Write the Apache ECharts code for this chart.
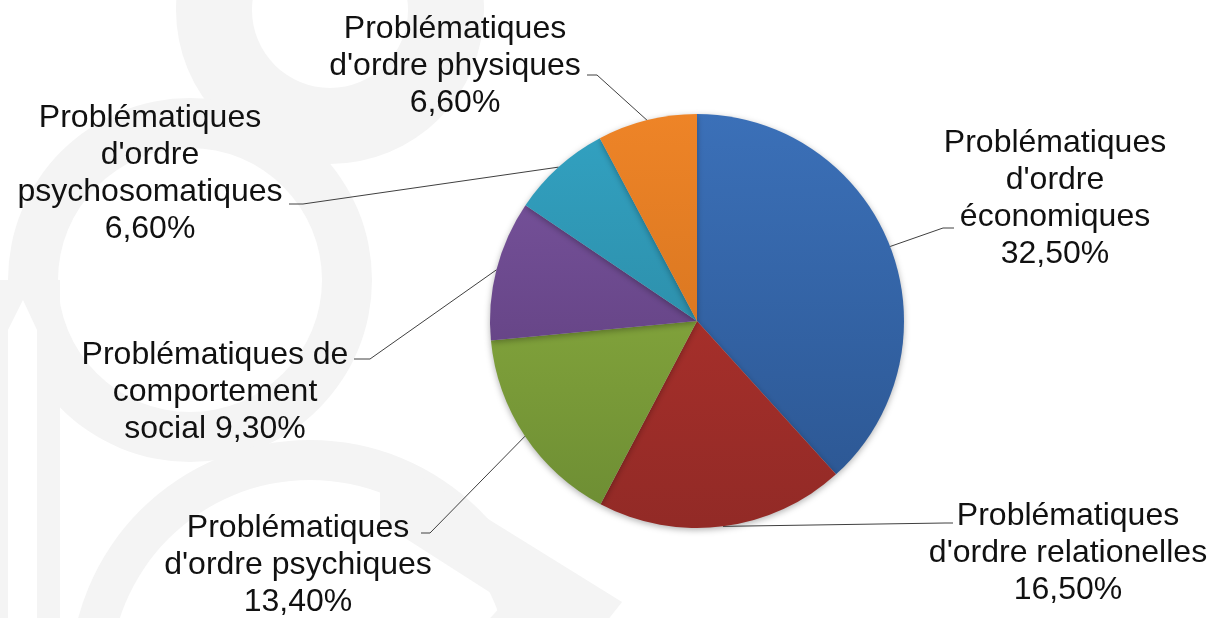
<!DOCTYPE html>
<html>
<head>
<meta charset="utf-8">
<script src="https://cdn.jsdelivr.net/npm/echarts@6/dist/echarts.min.js"></script>
<style>
  html, body { margin: 0; padding: 0; background: #fff; }
  #chart { width: 1216px; height: 618px; }
</style>
</head>
<body>
<div id="chart"></div>
<script>
// données
const categories = [
    "Problématiques\nd'ordre\néconomiques",
    "Problématiques\nd'ordre relationelles",
    "Problématiques\nd'ordre psychiques",
    "Problématiques de\ncomportement\nsocial",
    "Problématiques\nd'ordre\npsychosomatiques",
    "Problématiques\nd'ordre physiques"
];
const values = [32.5, 16.5, 13.4, 9.3, 6.6, 6.6];
// le pourcentage reste sur la même ligne pour "social"
const sameLine = [false, false, false, true, false, false];

// couleurs (haut -> bas du dégradé)
const colorsTop = ['#3b70b8', '#b9342f', '#93b642', '#7b56a1', '#32a2c2', '#ee8427'];
const colorsBottom = ['#2b5590', '#922a26', '#6c8c33', '#573873', '#297f97', '#c86c1c'];

// position des étiquettes (centre du bloc)
const labelPos = [
    [1055, 199],
    [1068, 553],
    [298, 565],
    [215, 392],
    [150, 174],
    [455, 66]
];
// coude puis extrémité du trait de rappel
const guideEnds = [
    [[943, 228], [954, 228]],
    [[945, 523], [953, 523]],
    [[430, 533], [421, 533]],
    [[370, 359], [354, 359]],
    [[303, 204], [289, 204]],
    [[597, 75], [587, 75]]
];

const CX = 697, CY = 321, R = 207;
const WM = '#f4f4f4'; // filigrane gris très clair en fond

const chart = echarts.init(document.getElementById('chart'));

const pieData = values.map((v, i) => ({
    name: categories[i],
    value: v,
    itemStyle: {
        color: new echarts.graphic.LinearGradient(0, CY - R, 0, CY + R, [
            { offset: 0, color: colorsTop[i] },
            { offset: 1, color: colorsBottom[i] }
        ], true)
    }
}));

// point sur le bord de la part (angle médian), au cas où
function edgePoint(idx) {
    const total = values.reduce((a, b) => a + b, 0);
    let before = 0;
    for (let k = 0; k < idx; k++) before += values[k];
    const a = (before + values[idx] / 2) / total * Math.PI * 2;
    return [CX + R * Math.sin(a), CY - R * Math.cos(a)];
}

function ring(cx, cy, r0, r) {
    return { type: 'ring', z: -10, silent: true, shape: { cx: cx, cy: cy, r0: r0, r: r }, style: { fill: WM } };
}

const option = {
    backgroundColor: '#ffffff',
    animation: false,
    graphic: [
        ring(330, 10, 78, 154),
        ring(190, 280, 132, 182),
        ring(310, 680, 200, 240),
        {
            type: 'rect', z: -10, silent: true,
            shape: { x: 0, y: 280, width: 60, height: 338 },
            style: { fill: WM }
        },
        {
            type: 'polygon', z: -9, silent: true,
            shape: { points: [[8, 618], [8, 330], [23, 300], [37, 330], [37, 618]] },
            style: { fill: '#ffffff' }
        },
        {
            type: 'polygon', z: -10, silent: true,
            shape: { points: [[380, 452], [622, 602], [592, 640], [470, 640], [505, 602], [380, 522]] },
            style: { fill: WM }
        }
    ],
    series: [
        {
            type: 'pie',
            center: [CX, CY],
            radius: R,
            startAngle: 90,
            clockwise: true,
            avoidLabelOverlap: false,
            data: pieData,
            itemStyle: {
                shadowBlur: 6,
                shadowColor: 'rgba(0,0,0,0.3)',
                shadowOffsetY: 2
            },
            label: {
                show: true,
                color: '#111',
                fontFamily: 'Liberation Sans, Arial, sans-serif',
                fontSize: 32,
                lineHeight: 37,
                align: 'center',
                formatter: function (p) {
                    const pct = values[p.dataIndex].toFixed(2).replace('.', ',') + '%';
                    return p.name + (sameLine[p.dataIndex] ? ' ' : '\n') + pct;
                }
            },
            labelLine: {
                show: true,
                length: 15,
                length2: 12,
                lineStyle: { color: '#404040', width: 1 }
            },
            labelLayout: function (params) {
                const i = params.dataIndex;
                const pos = labelPos[i];
                const start = params.labelLinePoints && params.labelLinePoints[0]
                    ? params.labelLinePoints[0] : edgePoint(i);
                return {
                    x: pos[0],
                    y: pos[1],
                    align: 'center',
                    verticalAlign: 'middle',
                    labelLinePoints: [start, guideEnds[i][0], guideEnds[i][1]]
                };
            }
        }
    ]
};

chart.setOption(option);
</script>
</body>
</html>
